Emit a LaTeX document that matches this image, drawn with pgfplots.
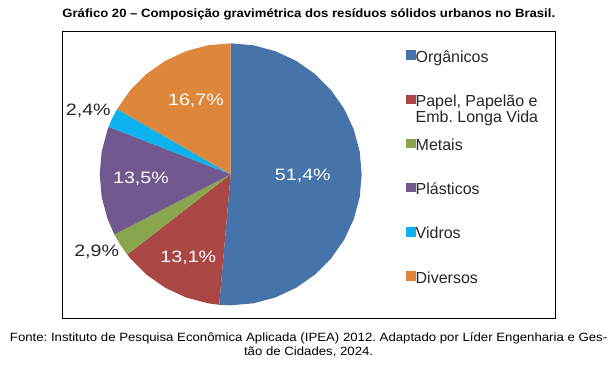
\documentclass[border=0pt]{standalone}
\usepackage{fontspec}
\setmainfont{Liberation Sans}
\usepackage{graphicx}
\usepackage{pgfplots}
\pgfplotsset{compat=1.18}
\usepgfplotslibrary{polar}
\definecolor{corg}{HTML}{4673AA}
\definecolor{cpap}{HTML}{AA4643}
\definecolor{cmet}{HTML}{89A54E}
\definecolor{cpla}{HTML}{71588F}
\definecolor{cvid}{HTML}{0CB2EE}
\definecolor{cdiv}{HTML}{DE873C}
\definecolor{ctxt}{HTML}{262626}
\newcommand{\lbl}[1]{\scalebox{1.19}[1]{\fontsize{16.5}{18}\selectfont #1}}
\begin{document}
\frenchspacing
\begin{tikzpicture}
\useasboundingbox (0pt,0pt) rectangle (616pt,-368pt);
% frame
\draw[black, line width=1pt] (62.7pt,-31.7pt) rectangle (555.7pt,-318pt);
% title
\node[anchor=base, inner sep=0pt] at (308.8pt,-17.3pt) {\scalebox{1.093}[1]{\bfseries\fontsize{12}{14}\selectfont Gráfico 20 – Composição gravimétrica dos resíduos sólidos urbanos no Brasil.}};
% footer
\node[anchor=base, inner sep=0pt] at (308.6pt,-341pt) {\scalebox{1.1}[1]{\fontsize{12}{14}\selectfont Fonte: Instituto de Pesquisa Econômica Aplicada (IPEA) 2012. Adaptado por Líder Engenharia e Ges-}};
\node[anchor=base, inner sep=0pt] at (308.6pt,-355pt) {\scalebox{1.1}[1]{\fontsize{12}{14}\selectfont tão de Cidades, 2024.}};
% Shares (%): Orgânicos 51.4, Papel 13.1, Metais 2.9, Plásticos 13.5, Vidros 2.4, Diversos 16.7
% slices clockwise from 90 deg, 1% = 3.6 deg
\begin{polaraxis}[
  at={(230.7pt,-174.3pt)}, anchor=center,
  scale only axis, width=262pt, height=262pt,
  hide axis, ymin=0, ymax=1, xmin=0, xmax=360, clip=false,
  legend cell align=left,
  legend image code/.code={\fill[#1] (0pt,-1.6pt) rectangle (9.7pt,7.7pt);},
  legend style={draw=none, fill=none, inner sep=0pt, outer sep=0pt,
    at={(1.169,0.974)}, anchor=north west, row sep=28.2pt,
    font=\fontsize{16}{15}\selectfont, text=ctxt,
    nodes={inner sep=0pt, text height=12pt, text depth=4pt},
    /tikz/every even column/.append style={column sep=1pt}},
]
\addplot[fill=corg, draw=none] coordinates {(0,0) (90,1) (80,1) (70,1) (60,1) (50,1) (40,1) (30,1) (20,1) (10,1) (0,1) (-10,1) (-20,1) (-30,1) (-40,1) (-50,1) (-60,1) (-70,1) (-80,1) (-90,1) (-95.04,1)} -- cycle;
\addlegendentry{Orgânicos}
\addplot[fill=cpap, draw=none] coordinates {(0,0) (-95.04,1) (-100,1) (-110,1) (-120,1) (-130,1) (-140,1) (-142.2,1)} -- cycle;
\addlegendentry{\begin{tabular}[t]{@{}l@{}}Papel, Papelão e\\Emb. Longa Vida\end{tabular}}
\addplot[fill=cmet, draw=none] coordinates {(0,0) (-142.2,1) (-147.4,1) (-152.64,1)} -- cycle;
\addlegendentry{Metais}
\addplot[fill=cpla, draw=none] coordinates {(0,0) (207.36,1) (200,1) (190,1) (180,1) (170,1) (160,1) (158.76,1)} -- cycle;
\addlegendentry{Plásticos}
\addplot[fill=cvid, draw=none] coordinates {(0,0) (158.76,1) (154.44,1) (150.12,1)} -- cycle;
\addlegendentry{Vidros}
\addplot[fill=cdiv, draw=none] coordinates {(0,0) (150.12,1) (140,1) (130,1) (120,1) (110,1) (100,1) (90,1)} -- cycle;
\addlegendentry{Diversos}
\end{polaraxis}
% slice labels
\begin{scope}[every node/.style={inner sep=0pt}]
\node[white] at (302.8pt,-175.7pt) {\lbl{51,4\%}};
\node[white] at (188.3pt,-257.3pt) {\lbl{13,1\%}};
\node[white] at (141pt,-178.3pt) {\lbl{13,5\%}};
\node[white] at (196pt,-101pt) {\lbl{16,7\%}};
\node[ctxt] at (88.3pt,-111pt) {\lbl{2,4\%}};
\node[ctxt] at (96.7pt,-251.7pt) {\lbl{2,9\%}};
\end{scope}
\end{tikzpicture}
\end{document}
